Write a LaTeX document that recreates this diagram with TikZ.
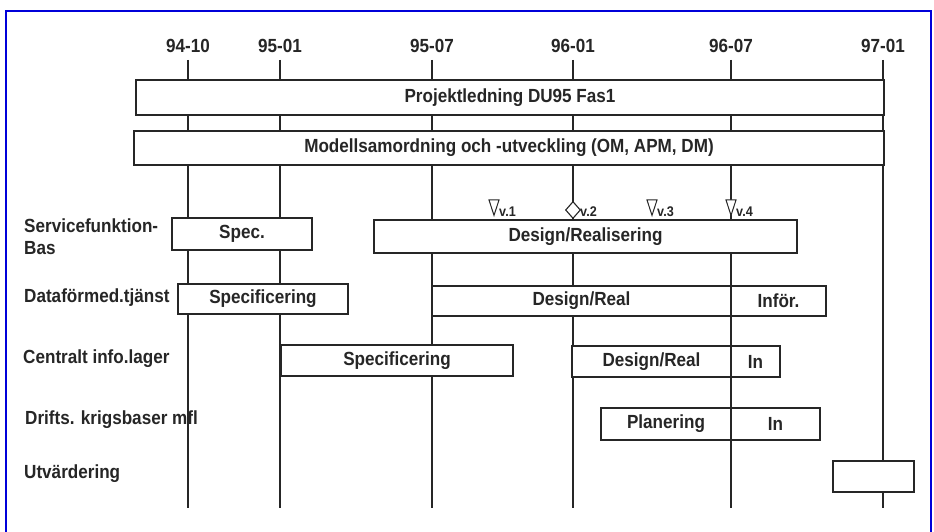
\documentclass[tikz,border=0pt]{standalone}
\usepackage{fontspec}
\setmainfont{Liberation Sans}
\newfontfamily\cf[FakeStretch=0.9]{Liberation Sans}
\usetikzlibrary{shapes.geometric}
\begin{document}
\begin{tikzpicture}[x=1pt,y=-1pt,
  lw/.style={line width=1.7pt, draw=black!85},
  bar/.style={lw, fill=white, rectangle, inner sep=0pt, font=\cf\bfseries\fontsize{19}{21}\selectfont, text=black!85},
  lab/.style={font=\cf\bfseries\fontsize{19}{22}\selectfont, text=black!85, inner sep=0pt},
  vl/.style={lab, anchor=base west, font=\cf\bfseries\fontsize{14}{16}\selectfont},
  tri/.style={draw=black!85, line width=1pt, fill=white, isosceles triangle, isosceles triangle apex angle=36, shape border rotate=-90, minimum width=10pt, minimum height=15pt, inner sep=0pt},
  dia/.style={draw=black!85, line width=1.1pt, fill=white, diamond, minimum width=15pt, minimum height=17pt, inner sep=0pt}]
\useasboundingbox (0,0) rectangle (934,532);
\fill[white] (0,0) rectangle (934,532);
\draw[blue!85!black, line width=2pt] (6,532) -- (6,11) -- (931,11) -- (931,532);
% date labels
\foreach \x/\t/\n in {188/94-10/da,280/95-01/db,432/95-07/dc,573/96-01/dd,731/96-07/de,883/97-01/df}{
  \node[lab] (\n) at (\x,46) {\t};
  \coordinate (\n top) at (\x,60);
  \coordinate (\n bot) at (\x,508);
  \draw[lw] (\n top) -- (\n bot);
}
% bars
\node[bar, minimum width=748pt, minimum height=35pt] (pl) at (510,97.5) {Projektledning DU95 Fas1};
\node[bar, minimum width=750pt, minimum height=34pt] (ms) at (509,148) {Modellsamordning och -utveckling (OM, APM, DM)};
\node[bar, minimum width=140pt, minimum height=32pt] (sp1) at (242,234) {Spec.};
\node[bar, minimum width=423pt, minimum height=33pt] (dr1) at (585.5,236.5) {Design/Realisering};
\node[bar, minimum width=170pt, minimum height=30pt] (sp2) at (263,299) {Specificering};
\node[bar, minimum width=299pt, minimum height=30pt] (dr2) at (581.5,301) {Design/Real};
\node[bar, minimum width=95pt, minimum height=30pt] (in2) at (778.5,301) {Inför.};
\node[bar, minimum width=232pt, minimum height=31pt] (sp3) at (397,360.5) {Specificering};
\node[bar, minimum width=159pt, minimum height=31pt] (dr3) at (651.5,361.5) {Design/Real};
\node[bar, minimum width=49pt, minimum height=31pt] (in3) at (755.5,361.5) {In};
\node[bar, minimum width=130pt, minimum height=32pt] (pn4) at (666,424) {Planering};
\node[bar, minimum width=89pt, minimum height=32pt] (in4) at (775.5,424) {In};
\node[bar, minimum width=81pt, minimum height=31pt] (ut) at (873.5,476.5) {};
% milestones
\node[tri, anchor=apex] (v1) at (494,217) {};
\node[dia] (v2) at (573,210) {};
\node[tri, anchor=apex] (v3) at (652,217) {};
\node[tri, anchor=apex] (v4) at (731,217) {};
\node[vl] (v1l) at (499,216) {v.1};
\node[vl] (v2l) at (580,216) {v.2};
\node[vl] (v3l) at (657,216) {v.3};
\node[vl] (v4l) at (736,216) {v.4};
% row labels
\node[lab, anchor=west, align=left] (r1) at (24,237) {Servicefunktion-\\Bas};
\node[lab, anchor=west] (r2) at (24,298) {Dataförmed.tjänst};
\node[lab, anchor=west] (r3) at (23,359) {Centralt info.lager};
\node[lab, anchor=west] (r4) at (25,420) {Drifts. krigsbaser mfl};
\node[lab, anchor=west] (r5) at (24,474) {Utvärdering};
\end{tikzpicture}
\end{document}
